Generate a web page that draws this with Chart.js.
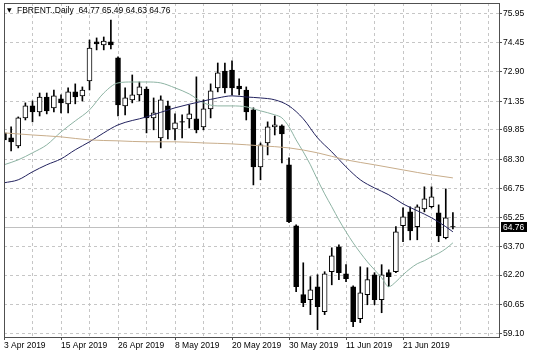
<!DOCTYPE html>
<html><head><meta charset="utf-8">
<script src="https://cdn.jsdelivr.net/npm/chart.js@4"></script>
<style>html,body{margin:0;padding:0;background:#fff;overflow:hidden}</style>
</head><body>
<canvas id="c" width="536" height="358" style="width:536px;height:358px;display:block"></canvas>
<script>
// ---- data ----
const symbolTitle = 'FBRENT..Daily';
const xLabels = ['3 Apr 2019','15 Apr 2019','26 Apr 2019','8 May 2019','20 May 2019','30 May 2019','11 Jun 2019','21 Jun 2019'];
const xLabelBars = [0,8,16,24,32,40,48,56];
const xGridBars = [0,4,8,12,16,20,24,28,32,36,40,44,48,52,56,60,64,68];
const yTicks = [59.10,60.65,62.20,63.70,65.25,66.75,68.30,69.85,71.35,72.90,74.45,75.95];

const openP  = [69.69,69.43,69.01,70.48,71.11,70.79,71.58,71.01,71.48,71.22,71.85,71.64,72.43,74.48,74.32,74.48,
                73.64,71.11,71.43,71.69,72.00,70.48,69.43,71.11,69.90,70.28,70.43,70.43,70.01,70.95,72.06,72.95,
                73.00,72.16,71.95,70.90,67.90,69.16,70.01,70.06,68.01,64.80,61.17,60.91,61.59,60.27,62.38,63.69,
                62.27,61.59,59.91,61.17,62.22,60.91,62.33,62.38,64.80,65.53,64.75,65.69,65.80,65.48,64.17,64.77];
const highP  = [70.11,70.01,70.53,71.27,71.37,71.79,71.79,71.95,71.69,72.06,72.27,72.11,74.58,74.69,74.74,75.63,
                73.69,72.06,72.74,72.37,72.11,71.53,71.64,71.37,70.69,70.64,71.16,72.64,71.43,72.27,73.37,73.37,
                73.48,72.53,72.11,71.01,69.16,70.27,70.58,70.11,68.38,64.85,62.85,62.12,62.22,62.38,63.64,63.80,
                62.75,61.64,62.64,62.59,62.33,62.75,62.48,64.75,65.74,65.80,65.90,66.85,66.85,65.90,66.74,65.49];
const lowP   = [68.90,68.74,68.90,70.37,70.27,70.58,70.69,70.79,70.74,70.74,71.22,71.37,71.95,74.06,74.06,74.11,
                70.58,70.64,71.27,71.37,69.69,69.85,68.90,69.37,69.32,69.43,69.95,69.69,69.85,70.48,71.85,71.79,
                71.69,71.69,70.37,66.95,67.22,68.53,69.58,68.11,64.96,61.33,60.54,60.12,59.33,60.12,61.69,61.96,
                61.85,59.48,59.70,60.64,60.64,60.22,61.59,62.33,63.96,64.06,64.06,65.53,65.74,63.96,64.11,64.63];
const closeP = [69.32,69.22,70.48,71.11,70.79,71.58,70.85,71.64,71.27,71.85,71.58,71.95,74.16,74.37,74.53,74.32,
                71.16,71.53,71.69,72.11,70.48,70.74,71.43,69.85,70.22,70.25,70.69,69.85,70.95,71.90,72.85,72.06,
                72.06,72.00,70.79,67.90,69.06,70.01,70.11,69.64,65.01,61.59,60.75,61.43,60.54,62.27,63.22,62.33,
                62.01,59.75,61.27,61.96,60.91,62.22,62.12,64.48,65.27,64.53,65.80,66.22,66.32,64.27,65.22,64.76];

// moving averages (bar index -> value)
const maFastBars = [0,2,4,6,8,10,12,14,16,18,20,22,24,26,28,30,32,34,36,38,39,40,41,42,43,44,45,46,47,48,49,50,51,52,53,54,55,56,57,58,59,60,61,62,63];
const maFast = [68.01,68.27,68.64,69.06,69.74,70.32,70.90,71.79,72.32,72.37,72.37,72.32,72.06,71.74,71.27,71.11,71.11,71.06,70.85,70.64,70.48,70.01,69.32,68.69,68.01,67.22,66.48,65.80,65.11,64.48,63.90,63.38,62.90,62.48,62.06,61.59,61.85,62.22,62.54,62.80,62.96,63.17,63.35,63.59,63.90];
const maMidBars = [0,2,4,6,8,10,12,14,16,20,24,28,30,32,34,36,38,40,42,44,46,48,50,52,54,56,58,60,62,63];
const maMid = [67.06,67.22,67.64,68.01,68.32,68.80,69.22,69.69,70.11,70.53,71.01,71.37,71.53,71.64,71.58,71.53,71.43,71.11,70.43,69.43,68.69,67.90,67.22,66.79,66.43,65.95,65.59,65.22,64.75,64.48];
const maSlowBars = [0,4,8,12,16,20,24,28,32,36,40,44,48,52,56,60,63];
const maSlow = [69.69,69.58,69.48,69.32,69.27,69.22,69.22,69.16,69.11,69.01,68.90,68.64,68.27,68.01,67.74,67.48,67.32];

// ---- chart ----
const FONT = {family:'Liberation Sans', size:8.5};
const idx = openP.map((_, i) => i);
const last = openP.length - 1;

const extras = {
  id:'extras',
  beforeDatasetsDraw(chart){
    const {ctx, chartArea:a, scales:{y}} = chart;
    const py = Math.round(y.getPixelForValue(closeP[last])) + 0.5;
    ctx.save();
    ctx.strokeStyle = '#c0c0c0'; ctx.lineWidth = 1;
    ctx.beginPath(); ctx.moveTo(a.left, py); ctx.lineTo(a.right, py); ctx.stroke();
    ctx.restore();
  },
  afterDraw(chart){
    const {ctx, chartArea:a, scales:{y}} = chart;
    ctx.save();
    ctx.strokeStyle = '#505050'; ctx.lineWidth = 1;
    ctx.strokeRect(a.left + 0.5, a.top + 0.5, a.right - a.left, a.bottom - a.top);
    // header
    ctx.fillStyle = '#000';
    ctx.textBaseline = 'alphabetic';
    ctx.font = '6px "DejaVu Sans"';
    ctx.fillText('\u25BC', 7, 12);
    ctx.font = FONT.size + 'px "' + FONT.family + '"';
    const hdr = symbolTitle + '  ' + [openP[last], highP[last], lowP[last], closeP[last]].map(v => v.toFixed(2)).join(' ');
    ctx.fillText(hdr, 17, 13);
    // current price label
    const py = Math.round(y.getPixelForValue(closeP[last]));
    ctx.fillStyle = '#000';
    ctx.fillRect(a.right + 2, py - 5, 26, 10);
    ctx.fillStyle = '#fff';
    ctx.textBaseline = 'middle';
    ctx.fillText(closeP[last].toFixed(2), a.right + 4, py + 0.5);
    ctx.restore();
  }
};

new Chart(document.getElementById('c'), {
  type: 'bar',
  data: {
    datasets: [
      { type:'line', label:'MA slow', data: maSlowBars.map((b,k)=>({x:b, y:maSlow[k]})),
        borderColor:'#c8ad8b', borderWidth:1, pointRadius:0, cubicInterpolationMode:'monotone', order:0 },
      { type:'line', label:'MA mid', data: maMidBars.map((b,k)=>({x:b, y:maMid[k]})),
        borderColor:'#22225e', borderWidth:1, pointRadius:0, cubicInterpolationMode:'monotone', order:0 },
      { type:'line', label:'MA fast', data: maFastBars.map((b,k)=>({x:b, y:maFast[k]})),
        borderColor:'#8db3a3', borderWidth:1, pointRadius:0, cubicInterpolationMode:'monotone', order:0 },
      { label:'body', data: idx.map(i=>({x:i, y:[openP[i], closeP[i]]})),
        backgroundColor: idx.map(i => closeP[i] < openP[i] ? '#000' : '#fff'),
        borderColor:'#000', borderWidth:1, borderSkipped:false, barThickness:5, grouped:false, order:2 },
      { label:'wick', data: idx.map(i=>({x:i, y:[lowP[i], highP[i]]})),
        backgroundColor:'#000', borderWidth:0, barThickness:1, grouped:false, order:3 }
    ]
  },
  options: {
    responsive:false, animation:false, devicePixelRatio:1,
    layout:{ padding:{ left:4, top:3, right:0, bottom:0 } },
    plugins:{ legend:{display:false}, tooltip:{enabled:false} },
    scales:{
      x:{
        type:'linear', min:0, max:69.47, offset:false,
        grid:{ offset:false, color:'#c6c6c6', lineWidth:1, tickLength:3,
               tickColor: c => (c.tick && xLabelBars.includes(c.tick.value)) ? '#505050' : 'rgba(0,0,0,0)' },
        border:{ display:false, dash:[3,3] },
        afterBuildTicks: s => { s.ticks = xGridBars.map(v=>({value:v})); },
        afterFit: s => { s.height = 21; s.paddingLeft = 0; s.paddingRight = 0; },
        ticks:{ autoSkip:false, maxRotation:0, minRotation:0, align:'start', padding:1, color:'#000', font:FONT,
                callback: v => { const k = xLabelBars.indexOf(v); return k >= 0 ? xLabels[k] : ''; } }
      },
      y:{
        type:'linear', position:'right', min:58.942, max:76.529,
        grid:{ color:'#c6c6c6', lineWidth:1, tickLength:3, tickColor:'#505050' },
        border:{ display:false, dash:[3,3] },
        afterBuildTicks: s => { s.ticks = yTicks.map(v=>({value:v})); },
        afterFit: s => { s.width = 37; s.paddingTop = 0; s.paddingBottom = 0; },
        ticks:{ autoSkip:false, padding:1, color:'#000', font:FONT, callback: v => Number(v).toFixed(2) }
      }
    }
  },
  plugins:[extras]
});
</script>
</body></html>
